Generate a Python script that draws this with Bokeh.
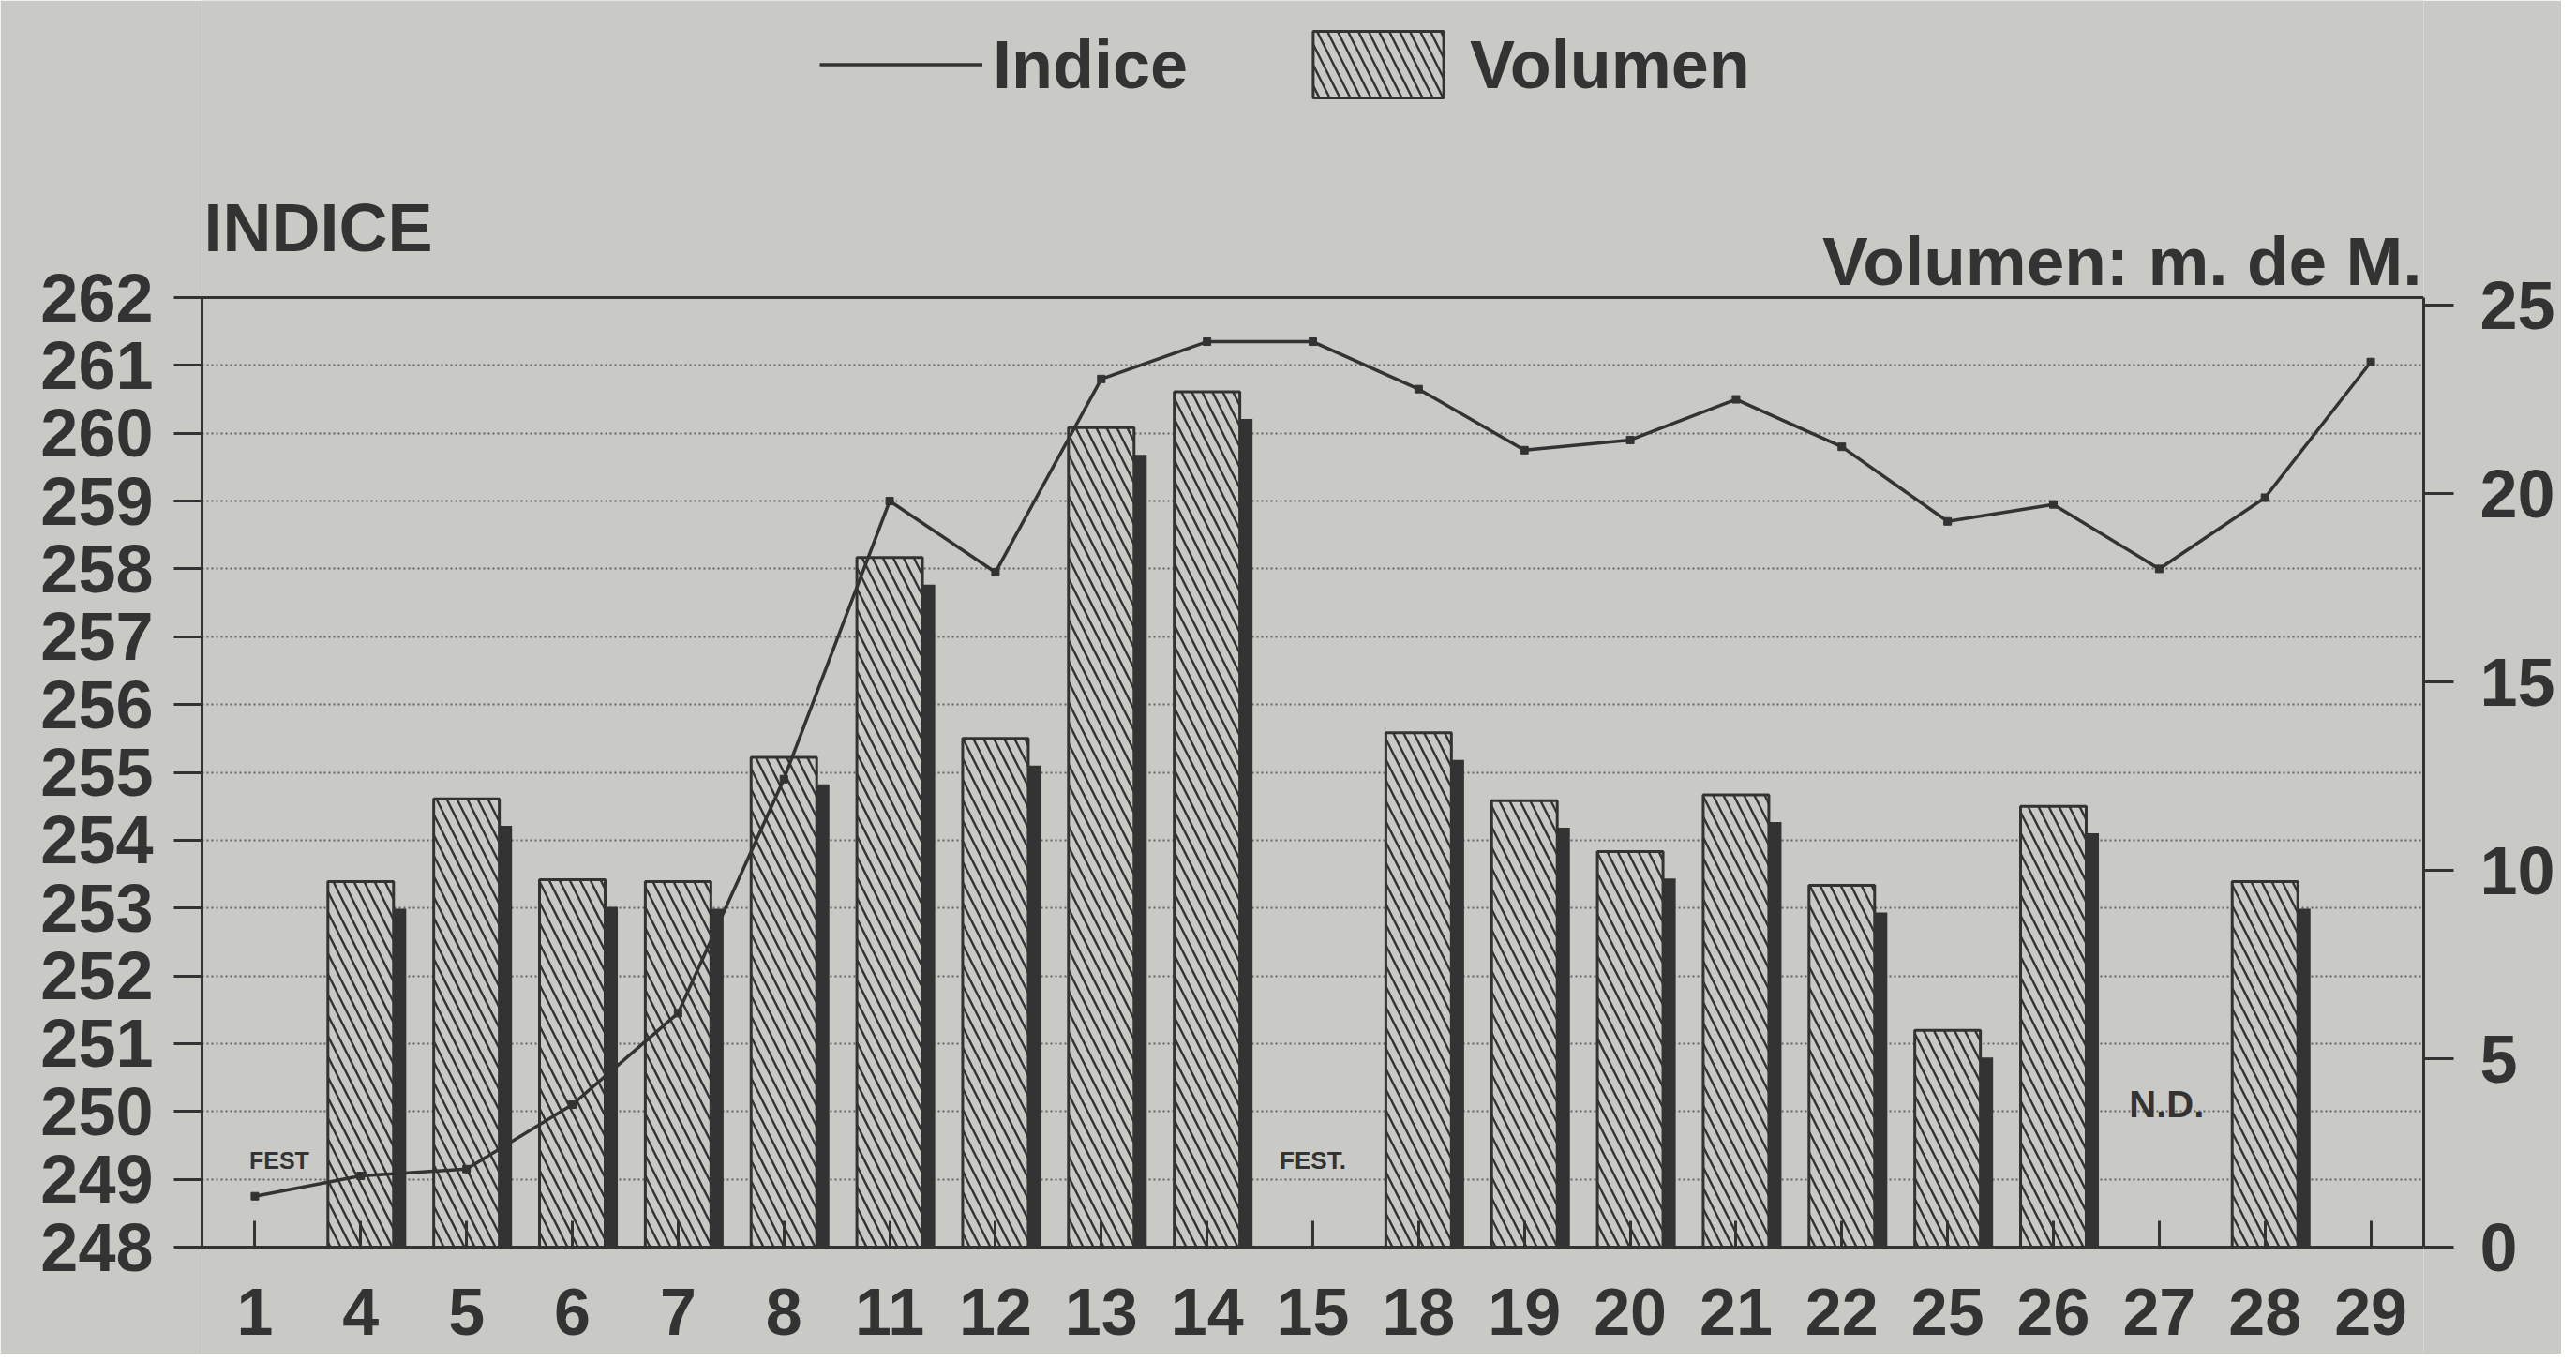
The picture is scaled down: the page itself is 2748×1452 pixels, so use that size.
from bokeh.plotting import figure
from bokeh.models import (ColumnDataSource, FactorRange, Range1d, LinearAxis, FixedTicker,
                          Label, Legend, LegendItem, Span)
from bokeh.transform import dodge
from bokeh.core.properties import value
from bokeh.embed import file_html
from bokeh.resources import INLINE

# ---------------- data ----------------
days = ["1", "4", "5", "6", "7", "8", "11", "12", "13", "14", "15",
        "18", "19", "20", "21", "22", "25", "26", "27", "28", "29"]
indice = [248.75, 249.05, 249.15, 250.1, 251.45, 254.9, 259.0, 257.95, 260.8, 261.35, 261.35,
          260.65, 259.75, 259.9, 260.5, 259.8, 258.7, 258.95, 258.0, 259.05, 261.05]
volumen = [None, 9.7, 11.9, 9.75, 9.7, 13.0, 18.3, 13.5, 21.75, 22.7, None,
           13.65, 11.85, 10.5, 12.0, 9.6, 5.75, 11.7, None, 9.7, None]
indice_ticks = list(range(248, 263))
volumen_ticks = [0, 5, 10, 15, 20, 25]
notes_day = ["1", "15", "27"]
notes_text = ["FEST", "FEST.", "N.D."]

# ---------------- style / layout ----------------
PAPER = "#c9c9c5"
INK = "#333333"
FONT = "Liberation Sans"
SHADOW_DROP = 0.72          # drop of the dark shadow, in volume units
IDX_MIN, IDX_MAX = 248, 262
VOL_MAX = 25.2
FRAME_W, FRAME_H = 2370, 1444   # the frame fills the canvas height
TOP_PAD, CHART_H, BOTTOM_PAD = 317, 1013, 114   # boxed chart inside the frame (px)
top_f = TOP_PAD / CHART_H
bot_f = BOTTOM_PAD / CHART_H

bar_days = [d for d, v in zip(days, volumen) if v is not None]
bar_vals = [v for v in volumen if v is not None]
bars = ColumnDataSource(dict(day=bar_days, vol=bar_vals,
                             shadow=[v - SHADOW_DROP for v in bar_vals]))
line_src = ColumnDataSource(dict(day=days, idx=indice))

idx_span = IDX_MAX - IDX_MIN
p = figure(width=2732, height=FRAME_H, output_backend="svg", toolbar_location=None,
           x_range=FactorRange(*days, range_padding=0),
           y_range=Range1d(IDX_MIN - idx_span * bot_f, IDX_MAX + idx_span * top_f),
           min_border_left=215, min_border_right=147, min_border_top=0, min_border_bottom=0)
p.extra_y_ranges = {"vol": Range1d(-VOL_MAX * bot_f, VOL_MAX * (1 + top_f))}

p.background_fill_color = PAPER
p.border_fill_color = PAPER
p.outline_line_color = None

# top line of the chart box
p.add_layout(Span(location=IDX_MAX, dimension="width", line_color=INK, line_width=3))

# grid
p.xgrid.grid_line_color = None
p.ygrid.ticker = FixedTicker(ticks=indice_ticks[1:-1])
p.ygrid.grid_line_color = "#505050"
p.ygrid.grid_line_width = 2
p.ygrid.grid_line_dash = "2 3"
p.ygrid.grid_line_alpha = 0.85

# axes
def style_axis(ax, size="72px"):
    ax.axis_line_color = INK
    ax.axis_line_width = 3
    ax.major_tick_line_color = INK
    ax.major_tick_line_width = 3
    ax.minor_tick_line_color = None
    ax.major_label_text_font = FONT
    ax.major_label_text_font_style = "bold"
    ax.major_label_text_font_size = size
    ax.major_label_text_color = INK

xa = p.xaxis[0]
style_axis(xa, "70px")
xa.fixed_location = IDX_MIN
xa.major_tick_in = 28
xa.major_tick_out = 0
xa.major_label_standoff = 44

ya = p.yaxis[0]
ya.ticker = FixedTicker(ticks=indice_ticks)
ya.bounds = (IDX_MIN, IDX_MAX)
style_axis(ya)
ya.major_tick_out = 30
ya.major_tick_in = 0
ya.major_label_standoff = 22

ra = LinearAxis(y_range_name="vol", ticker=FixedTicker(ticks=volumen_ticks),
                bounds=(0, VOL_MAX))
style_axis(ra)
ra.major_tick_out = 32
ra.major_tick_in = 0
ra.major_label_standoff = 28
p.add_layout(ra, "right")

# bars: dark drop shadow then hatched bar
p.vbar(x=dodge("day", 0.12, range=p.x_range), top="shadow", bottom=0, width=0.62,
       source=bars, y_range_name="vol", fill_color=INK, line_color=None)
bar_r = p.vbar(x="day", top="vol", bottom=0, width=0.62, source=bars, y_range_name="vol",
               fill_color=PAPER, line_color=INK, line_width=3,
               hatch_pattern="left_diagonal_line", hatch_color=INK,
               hatch_scale=22, hatch_weight=2.4)

# index line
line_r = p.line(x="day", y="idx", source=line_src, line_color=INK, line_width=3.5)
p.scatter(x="day", y="idx", source=line_src, marker="square", size=8,
          fill_color=INK, line_color=INK)

# notes inside the plot
p.text(x=[notes_day[0]], y=[2.3], text=[notes_text[0]], y_range_name="vol", x_offset=26,
       text_font=value(FONT), text_font_style="bold", text_font_size="25px",
       text_align="center", text_baseline="middle", text_color=INK)
p.text(x=[notes_day[1]], y=[2.3], text=[notes_text[1]], y_range_name="vol", x_offset=0,
       text_font=value(FONT), text_font_style="bold", text_font_size="26px",
       text_align="center", text_baseline="middle", text_color=INK)
p.text(x=[notes_day[2]], y=[3.8], text=[notes_text[2]], y_range_name="vol", x_offset=8,
       text_font=value(FONT), text_font_style="bold", text_font_size="40px",
       text_align="center", text_baseline="middle", text_color=INK)

# axis titles (screen units, measured from the frame's lower-left corner)
p.add_layout(Label(x=2, y=1202, x_units="screen", y_units="screen", text="INDICE",
                   text_font=FONT, text_font_style="bold", text_font_size="72px",
                   text_color=INK, text_baseline="alphabetic", text_align="left"))
p.add_layout(Label(x=FRAME_W - 2, y=1166, x_units="screen", y_units="screen",
                   text="Volumen: m. de M.",
                   text_font=FONT, text_font_style="bold", text_font_size="73px",
                   text_color=INK, text_baseline="alphabetic", text_align="right"))

# legend above the chart box
legend = Legend(items=[LegendItem(label="Indice", renderers=[line_r]),
                       LegendItem(label="Volumen", renderers=[bar_r])],
                orientation="horizontal", location=(659, 1331),
                glyph_width=174, glyph_height=89, label_standoff=11, spacing=116,
                padding=0, margin=0, border_line_color=None, background_fill_alpha=0,
                label_text_font=FONT, label_text_font_style="bold",
                label_text_font_size="72px", label_text_color=INK)
p.add_layout(legend)

html = file_html(p, INLINE)
html = html.replace("<body>", '<body style="background:%s">' % PAPER, 1)
open("out.html", "w").write(html)
